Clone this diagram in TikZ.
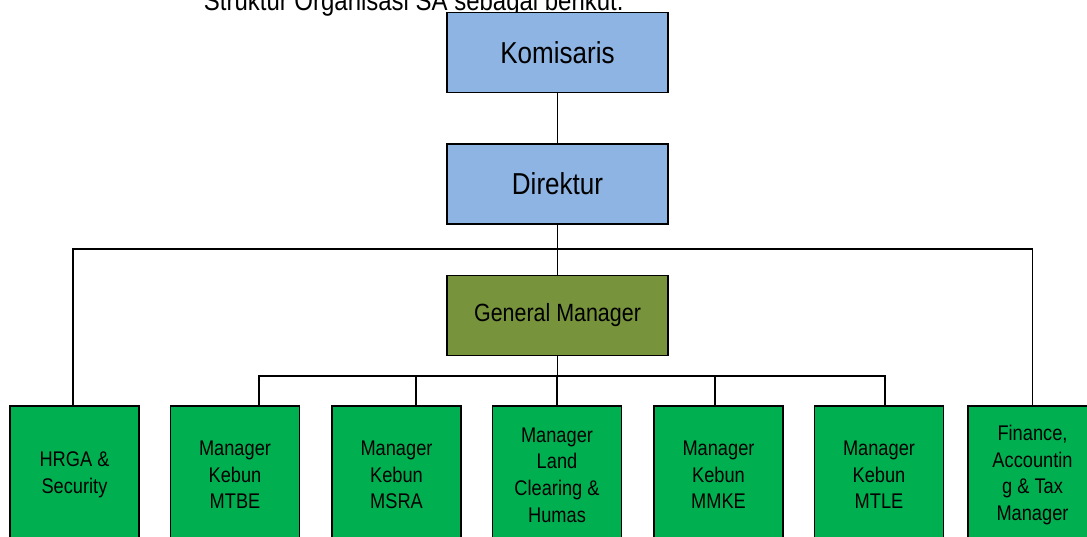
\documentclass[tikz,border=0pt]{standalone}
\usepackage{fontspec}
\setmainfont{Liberation Sans}[FakeStretch=0.86]
\usetikzlibrary{calc}

\definecolor{boardblue}{HTML}{8EB4E3}
\definecolor{gmolive}{HTML}{77933C}
\definecolor{unitgreen}{HTML}{00B050}

\begin{document}
\begin{tikzpicture}[x=0.75pt, y=-0.75pt, line width=1.4pt, line join=miter,
    topbox/.style={draw=black, fill=boardblue, minimum width=165.75pt, minimum height=60pt,
        inner sep=0pt, font=\fontsize{22.7}{26}\selectfont},
    gmbox/.style={topbox, fill=gmolive, font=\fontsize{18.7}{22}\selectfont},
    unitbox/.style={draw=black, fill=unitgreen, minimum width=96.75pt, minimum height=103.5pt,
        inner sep=0pt, align=center, font=\fontsize{15.9}{20}\selectfont}]

    % Page frame
    \clip (0,0) rectangle (1087,536);

    % Caption line (cut at the top)
    \node[anchor=base west, inner sep=0pt, font=\fontsize{20.9}{24}\selectfont] (caption)
        at (203,10) {Struktur Organisasi SA sebagai berikut.};

    % Board and directors
    \node[topbox] (kom) at (557.5,52.5) {Komisaris};
    \node[topbox] (dir) at (557.5,184) {Direktur};
    \node[gmbox]  (gm)  at (557.5,315.5) {General Manager};

    % Units
    \node[unitbox] (hrga) at (74.5,475) {HRGA \&\\Security};
    \node[unitbox] (mtbe) at (235,475) {Manager\\Kebun\\MTBE};
    \node[unitbox] (msra) at (396.5,475) {Manager\\Kebun\\MSRA};
    \node[unitbox] (land) at (557,475) {Manager\\Land\\Clearing \&\\Humas};
    \node[unitbox] (mmke) at (718.5,475) {Manager\\Kebun\\MMKE};
    \node[unitbox] (mtle) at (879,475) {Manager\\Kebun\\MTLE};
    \node[unitbox] (fin)  at (1032.5,475) {Finance,\\Accountin\\g \& Tax\\Manager};

    % Junctions
    \coordinate (topbar) at (557.5,249);
    \coordinate (midbar) at (557.5,376);

    % Upper links
    \draw (kom) -- (dir);
    \draw (dir) -- (gm);
    \draw ($(hrga.north)+(-1.5,0)$) |- (topbar) -| (fin.north);

    % Lower links
    \draw (gm) -- (midbar);
    \draw ($(mtbe.north)+(24,0)$) |- (midbar) -| ($(mtle.north)+(6,0)$);
    \foreach \name/\dx in {msra/19.5, land/0, mmke/-3.5}{
        \draw ($(\name.north)+(\dx,0)$) |- (midbar);
    }

\end{tikzpicture}
\end{document}
